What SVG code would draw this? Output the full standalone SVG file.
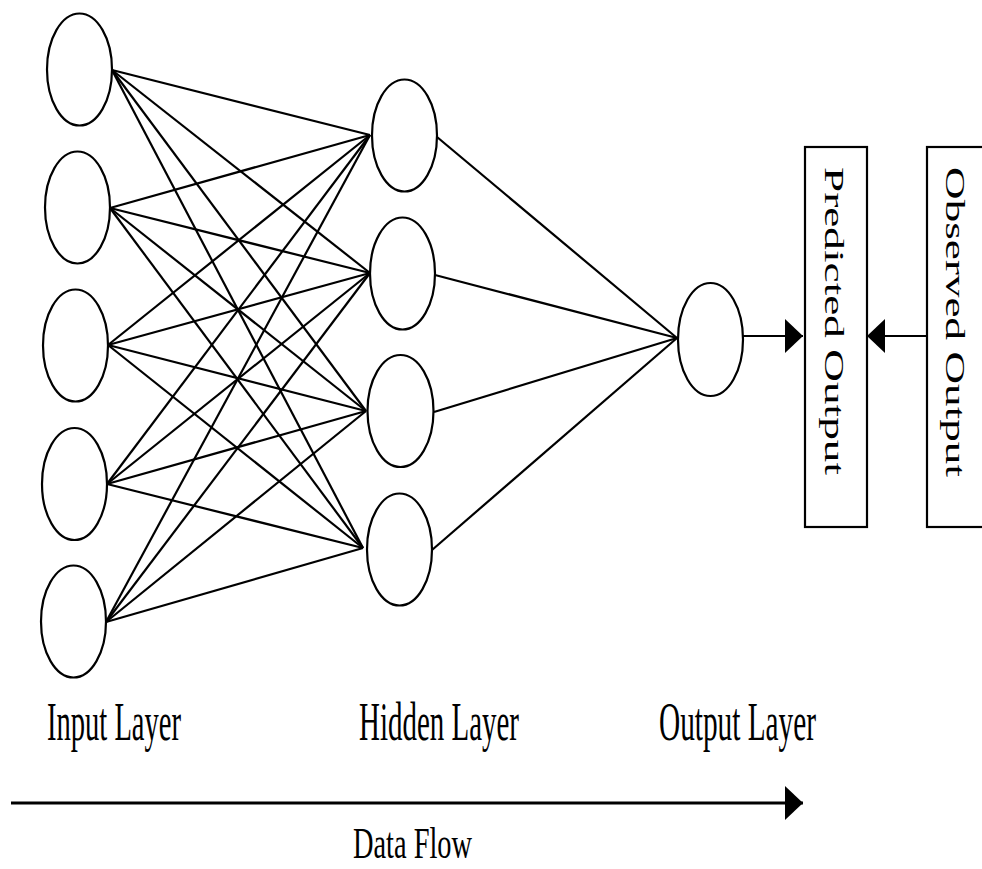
<svg xmlns="http://www.w3.org/2000/svg" width="982" height="869" viewBox="0 0 982 869">
<defs>
<style>
.n{fill:#fff;stroke:#000;stroke-width:2.2}
.c line{stroke:#000;stroke-width:2.2}
.b{fill:#fff;stroke:#000;stroke-width:2.2}
.t{font-family:"Liberation Serif","Times New Roman",serif;fill:#000}
</style>
<marker id="ah" viewBox="0 0 18 34" refX="18" refY="17" markerWidth="18" markerHeight="34" markerUnits="userSpaceOnUse" orient="auto">
<path d="M0,0 L18,17 L0,34 Z" fill="#000"/>
</marker>
</defs>
<rect width="982" height="869" fill="#fff"/>
<g id="connectors" class="c">
<line x1="112" y1="70" x2="370" y2="135"/><line x1="112" y1="70" x2="370" y2="273"/><line x1="112" y1="70" x2="366" y2="411"/><line x1="112" y1="70" x2="363" y2="548"/>
<line x1="110" y1="208" x2="370" y2="135"/><line x1="110" y1="208" x2="370" y2="273"/><line x1="110" y1="208" x2="366" y2="411"/><line x1="110" y1="208" x2="363" y2="548"/>
<line x1="108" y1="345" x2="370" y2="135"/><line x1="108" y1="345" x2="370" y2="273"/><line x1="108" y1="345" x2="366" y2="411"/><line x1="108" y1="345" x2="363" y2="548"/>
<line x1="107" y1="484" x2="370" y2="135"/><line x1="107" y1="484" x2="370" y2="273"/><line x1="107" y1="484" x2="366" y2="411"/><line x1="107" y1="484" x2="363" y2="548"/>
<line x1="106" y1="622" x2="370" y2="135"/><line x1="106" y1="622" x2="370" y2="273"/><line x1="106" y1="622" x2="366" y2="411"/><line x1="106" y1="622" x2="363" y2="548"/>
<line x1="437" y1="137" x2="677" y2="338"/><line x1="435" y1="275" x2="677" y2="338"/><line x1="434" y1="412" x2="677" y2="338"/><line x1="432" y1="550" x2="677" y2="338"/>
<line x1="743" y1="336" x2="803" y2="336" marker-end="url(#ah)"/>
<line x1="926" y1="336" x2="867" y2="336" marker-end="url(#ah)"/>
<line x1="11" y1="803" x2="803" y2="803" style="stroke-width:3" marker-end="url(#ah)"/>
</g>
<g id="in1"><ellipse class="n" cx="79.5" cy="69.5" rx="32.5" ry="56"/></g>
<g id="in2"><ellipse class="n" cx="77.5" cy="207.5" rx="32.5" ry="56"/></g>
<g id="in3"><ellipse class="n" cx="75.5" cy="345.5" rx="32.5" ry="56"/></g>
<g id="in4"><ellipse class="n" cx="74.5" cy="484" rx="32.5" ry="56"/></g>
<g id="in5"><ellipse class="n" cx="73.5" cy="621.5" rx="32.5" ry="56"/></g>
<g id="h1"><ellipse class="n" cx="404.5" cy="135.5" rx="32.5" ry="56"/></g>
<g id="h2"><ellipse class="n" cx="402.5" cy="273.5" rx="32.5" ry="56"/></g>
<g id="h3"><ellipse class="n" cx="400.5" cy="411" rx="33" ry="56"/></g>
<g id="h4"><ellipse class="n" cx="399.5" cy="549.5" rx="32.5" ry="56"/></g>
<g id="out"><ellipse class="n" cx="710.5" cy="339.5" rx="32.5" ry="56.5"/></g>
<g id="predicted">
<rect class="b" x="805" y="147" width="62" height="380"/>
<text class="t" transform="translate(825,167) rotate(90)" font-size="27" textLength="308" lengthAdjust="spacingAndGlyphs">Predicted Output</text>
</g>
<g id="observed">
<rect class="b" x="927" y="147" width="70" height="380"/>
<text class="t" transform="translate(946,167) rotate(90)" font-size="27" textLength="310" lengthAdjust="spacingAndGlyphs">Observed Output</text>
</g>
<g id="labels">
<text class="t" x="47" y="740" font-size="54" textLength="134" lengthAdjust="spacingAndGlyphs">Input Layer</text>
<text class="t" x="359" y="740" font-size="54" textLength="160" lengthAdjust="spacingAndGlyphs">Hidden Layer</text>
<text class="t" x="659" y="740" font-size="54" textLength="157" lengthAdjust="spacingAndGlyphs">Output Layer</text>
<text class="t" x="353" y="858" font-size="45" textLength="119" lengthAdjust="spacingAndGlyphs">Data Flow</text>
</g>
</svg>
